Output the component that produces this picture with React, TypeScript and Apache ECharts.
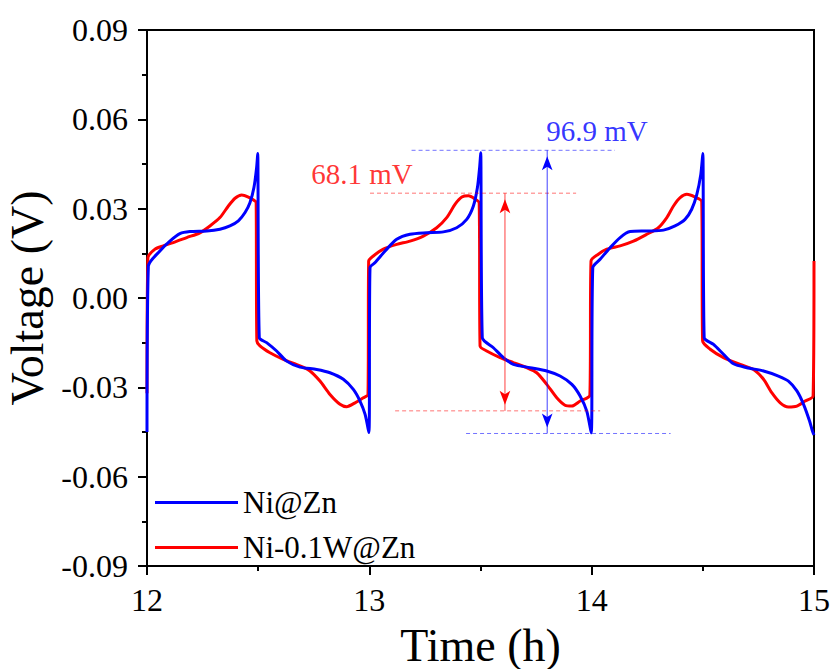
import React, { useEffect, useRef } from "react";
import * as echarts from "echarts";

// Time (h), Voltage (V)
const niZn: [number, number][] = [
  [12.0, -0.045], [12.006, 0.0107], [12.058, 0.0158], [12.103, 0.0191], [12.148, 0.0216],
  [12.193, 0.0223], [12.269, 0.0225], [12.328, 0.0231], [12.373, 0.0242], [12.411, 0.0259],
  [12.441, 0.0287], [12.463, 0.032], [12.481, 0.0371], [12.493, 0.0438], [12.498, 0.0485],
  [12.505, -0.0133], [12.538, -0.015], [12.583, -0.0178], [12.628, -0.0212], [12.688, -0.0232],
  [12.763, -0.024], [12.823, -0.0251], [12.883, -0.0273], [12.928, -0.0307], [12.958, -0.0346],
  [12.981, -0.0391], [12.998, -0.0452],
  [13.003, 0.0102], [13.026, 0.0119], [13.071, 0.0158], [13.123, 0.0197], [13.183, 0.0214],
  [13.258, 0.0219], [13.333, 0.0222], [13.393, 0.0236], [13.438, 0.0264], [13.468, 0.0309],
  [13.486, 0.037], [13.496, 0.0438], [13.501, 0.0488],
  [13.508, -0.0133], [13.558, -0.0167], [13.603, -0.02], [13.648, -0.0223], [13.723, -0.0234],
  [13.798, -0.0245], [13.858, -0.0262], [13.911, -0.029], [13.948, -0.0329], [13.978, -0.038],
  [13.998, -0.0453],
  [14.005, 0.0102], [14.038, 0.013], [14.083, 0.0169], [14.128, 0.0203], [14.173, 0.0223],
  [14.248, 0.0225], [14.323, 0.0228], [14.375, 0.0242], [14.42, 0.0264], [14.45, 0.0298],
  [14.473, 0.0348], [14.491, 0.0416], [14.5, 0.0485],
  [14.506, -0.0133], [14.548, -0.0156], [14.593, -0.0189], [14.638, -0.0221], [14.698, -0.0234],
  [14.773, -0.0245], [14.84, -0.0262], [14.885, -0.0279], [14.923, -0.0312], [14.953, -0.0357],
  [14.98, -0.0413], [14.993, -0.0447], [15.0, -0.046],
];

const niWZn: [number, number][] = [
  [12.0, -0.032], [12.004, 0.0135], [12.036, 0.0164], [12.073, 0.0175], [12.118, 0.0186],
  [12.179, 0.0203], [12.238, 0.0219], [12.283, 0.0242], [12.328, 0.027], [12.366, 0.0309],
  [12.396, 0.0335], [12.426, 0.0346], [12.456, 0.0339], [12.486, 0.0326], [12.491, 0.032],
  [12.494, -0.0144], [12.508, -0.0161], [12.553, -0.0184], [12.613, -0.0206], [12.688, -0.0228],
  [12.733, -0.0245], [12.778, -0.0279], [12.823, -0.0324], [12.868, -0.0357], [12.898, -0.0365],
  [12.936, -0.0352], [12.973, -0.0335], [12.994, -0.0324],
  [12.997, 0.0124], [13.018, 0.0141], [13.063, 0.0164], [13.123, 0.018], [13.183, 0.0191],
  [13.243, 0.0208], [13.303, 0.0236], [13.348, 0.027], [13.386, 0.0315], [13.416, 0.0339],
  [13.446, 0.0343], [13.476, 0.0332], [13.494, 0.032],
  [13.498, -0.0161], [13.528, -0.0178], [13.588, -0.02], [13.648, -0.0217], [13.708, -0.0234],
  [13.753, -0.0251], [13.798, -0.029], [13.843, -0.0335], [13.88, -0.036], [13.911, -0.0363],
  [13.948, -0.0346], [13.992, -0.0326],
  [13.997, 0.0124], [14.03, 0.0147], [14.068, 0.0164], [14.128, 0.0175], [14.188, 0.0191],
  [14.248, 0.0214], [14.3, 0.0236], [14.338, 0.027], [14.368, 0.0309], [14.398, 0.0337],
  [14.428, 0.0348], [14.465, 0.0339], [14.495, 0.0324],
  [14.499, -0.0144], [14.533, -0.0172], [14.593, -0.02], [14.668, -0.0223], [14.728, -0.024],
  [14.773, -0.0273], [14.81, -0.0318], [14.848, -0.0352], [14.885, -0.0366], [14.923, -0.0363],
  [14.96, -0.0346], [14.996, -0.0329], [15.0, 0.0124],
];

// Annotation values (V) and extents (h)
const redTop = 0.0352;
const redBottom = -0.0379;
const blueTop = 0.0496;
const blueBottom = -0.0455;
const redTopSpan = [13.003, 13.93];
const redBottomSpan = [13.116, 14.038];
const blueTopSpan = [13.19, 14.105];
const blueBottomSpan = [13.435, 14.355];
const redArrowX = 13.61;
const blueArrowX = 13.8;
const redLabel = { text: "68.1 mV", t: 12.967, v: 0.0417 };
const blueLabel = { text: "96.9 mV", t: 14.024, v: 0.0561 };

const yTicks = [-0.09, -0.06, -0.03, 0.0, 0.03, 0.06, 0.09];
const xTicks = [12, 13, 14, 15];

const FONT = "'Liberation Serif', 'Times New Roman', serif";

function dashSeries(color: string, y: number, span: number[]) {
  return {
    type: "line",
    silent: true,
    symbol: "none",
    data: [
      [span[0], y],
      [span[1], y],
    ],
    lineStyle: { color, width: 1, type: [4, 3], opacity: 0.55 },
    itemStyle: { color },
    z: 4,
  };
}

function arrowSeries(color: string, x: number, top: number, bottom: number) {
  return {
    type: "line",
    silent: true,
    showSymbol: true,
    symbol: "arrow",
    symbolSize: [8, 14],
    symbolKeepAspect: false,
    data: [
      { value: [x, top], symbolRotate: 0, symbolOffset: [0, 6] },
      { value: [x, bottom], symbolRotate: 180, symbolOffset: [0, -6] },
    ],
    lineStyle: { color, width: 1, opacity: 0.75 },
    itemStyle: { color },
    z: 4,
  };
}

export default function App() {
  const ref = useRef<HTMLDivElement>(null);
  useEffect(() => {
    if (!ref.current) return;
    const chart = echarts.init(ref.current, null, { renderer: "svg" });
    chart.setOption({
      animation: false,
      backgroundColor: "#ffffff",
      textStyle: { fontFamily: FONT },
      grid: {
        left: 147,
        right: 19,
        top: 30,
        bottom: 103,
        outerBoundsMode: "none",
        containLabel: false,
        show: true,
        borderColor: "#000",
        borderWidth: 2,
        backgroundColor: "transparent",
      },
      legend: {
        data: [
          { name: "Ni@Zn", icon: "rect", itemStyle: { color: "#0000ff" } },
          { name: "Ni-0.1W@Zn", icon: "rect", itemStyle: { color: "#ff0000" } },
        ],
        orient: "vertical",
        left: 150,
        top: 482,
        itemWidth: 83,
        itemHeight: 3,
        itemGap: 14,
        textStyle: { fontFamily: FONT, fontSize: 31, color: "#000", lineHeight: 30 },
      },
      xAxis: {
        type: "value",
        min: xTicks[0],
        max: xTicks[xTicks.length - 1],
        interval: 1,
        name: "Time (h)",
        nameLocation: "middle",
        nameGap: 56,
        nameTextStyle: { fontFamily: FONT, fontSize: 46, color: "#000" },
        axisLine: { show: true, onZero: false, lineStyle: { color: "#000", width: 2 } },
        axisTick: { show: true, inside: false, length: 9, lineStyle: { color: "#000", width: 2 } },
        minorTick: { show: true, splitNumber: 2, length: 5, lineStyle: { color: "#000", width: 2 } },
        splitLine: { show: false },
        axisLabel: { fontFamily: FONT, fontSize: 32, color: "#000", margin: 18 },
      },
      yAxis: {
        type: "value",
        min: yTicks[0],
        max: yTicks[yTicks.length - 1],
        interval: 0.03,
        name: "Voltage (V)",
        nameLocation: "middle",
        nameGap: 91,
        nameTextStyle: { fontFamily: FONT, fontSize: 46, color: "#000", lineHeight: 46 },
        axisLine: { show: true, onZero: false, lineStyle: { color: "#000", width: 2 } },
        axisTick: { show: true, inside: false, length: 9, lineStyle: { color: "#000", width: 2 } },
        minorTick: { show: true, splitNumber: 2, length: 5, lineStyle: { color: "#000", width: 2 } },
        splitLine: { show: false },
        axisLabel: {
          fontFamily: FONT,
          fontSize: 32,
          color: "#000",
          margin: 19,
          formatter: (v: number) => v.toFixed(2),
        },
      },
      series: [
        {
          name: "Ni-0.1W@Zn",
          type: "line",
          data: niWZn,
          symbol: "none",
          smooth: 0.25,
          lineStyle: { color: "#ff0000", width: 3 },
          itemStyle: { color: "#ff0000" },
          z: 2,
        },
        {
          name: "Ni@Zn",
          type: "line",
          data: niZn,
          symbol: "none",
          smooth: 0.25,
          lineStyle: { color: "#0000ff", width: 3 },
          itemStyle: { color: "#0000ff" },
          z: 3,
        },
        dashSeries("#ff0000", redTop, redTopSpan),
        dashSeries("#ff0000", redBottom, redBottomSpan),
        dashSeries("#0000ff", blueTop, blueTopSpan),
        dashSeries("#0000ff", blueBottom, blueBottomSpan),
        arrowSeries("#ff0000", redArrowX, redTop, redBottom),
        arrowSeries("#0000ff", blueArrowX, blueTop, blueBottom),
        {
          name: "labels",
          type: "scatter",
          symbolSize: 0,
          silent: true,
          data: [
            {
              value: [redLabel.t, redLabel.v],
              label: {
                show: true,
                position: "inside",
                formatter: redLabel.text,
                fontFamily: FONT,
                fontSize: 29,
                color: "#ff0000",
              },
            },
            {
              value: [blueLabel.t, blueLabel.v],
              label: {
                show: true,
                position: "inside",
                formatter: blueLabel.text,
                fontFamily: FONT,
                fontSize: 29,
                color: "#0000ff",
              },
            },
          ],
          z: 5,
        },
      ],
    });
    return () => chart.dispose();
  }, []);
  return (
    <div
      ref={ref}
      style={{ position: "absolute", left: 0, top: 0, width: 833, height: 669 }}
    />
  );
}
